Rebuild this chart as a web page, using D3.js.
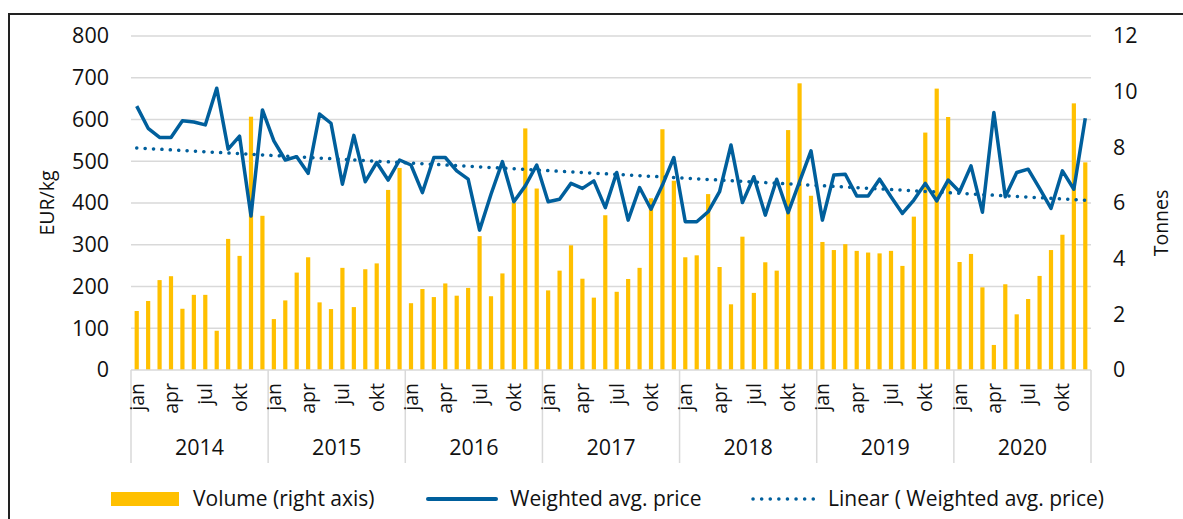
<!DOCTYPE html>
<html>
<head>
<meta charset="utf-8">
<script src="https://cdn.jsdelivr.net/npm/d3@7"></script>
<style>
  body { margin: 0; background: #fff; }
  svg { display: block; font-family: "Open Sans", sans-serif; }
</style>
</head>
<body>
<div id="chart"></div>
<script>
const years = ["2014", "2015", "2016", "2017", "2018", "2019", "2020"];
const monthNames = ["jan", "feb", "mar", "apr", "maj", "jun", "jul", "aug", "sep", "okt", "nov", "dec"];
const shownMonths = ["jan", "apr", "jul", "okt"];

// Weighted avg. price, EUR/kg (left axis)
const price = [
  632, 579, 557, 557, 597, 594, 587, 675, 529, 560, 369, 623,
  549, 503, 511, 471, 613, 591, 445, 562, 451, 497, 455, 503,
  491, 425, 509, 509, 477, 457, 335, 421, 499, 403, 441, 491,
  403, 409, 447, 435, 453, 389, 473, 359, 437, 385, 443, 509,
  355, 355, 379, 427, 539, 401, 463, 371, 457, 377, 451, 525,
  359, 467, 469, 417, 417, 457, 415, 375, 407, 447, 405, 455,
  427, 489, 378, 617, 415, 473, 481, 435, 387, 477, 433, 603
];

// Volume, tonnes (right axis)
const volume = [
  2.12, 2.48, 3.23, 3.37, 2.20, 2.70, 2.70, 1.41, 4.71, 4.10, 9.10, 5.54,
  1.83, 2.50, 3.50, 4.05, 2.43, 2.19, 3.67, 2.26, 3.62, 3.83, 6.47, 7.26,
  2.40, 2.91, 2.62, 3.11, 2.67, 2.95, 4.81, 2.65, 3.47, 6.01, 8.68, 6.52,
  2.86, 3.57, 4.48, 3.28, 2.60, 5.56, 2.81, 3.27, 3.67, 6.17, 8.65, 6.80,
  4.05, 4.12, 6.32, 3.70, 2.36, 4.79, 2.77, 3.87, 3.57, 8.62, 10.30, 6.26,
  4.60, 4.31, 4.52, 4.28, 4.22, 4.19, 4.28, 3.74, 5.51, 8.53, 10.11, 9.09,
  3.88, 4.17, 2.97, 0.90, 3.08, 2.00, 2.55, 3.38, 4.31, 4.86, 9.58, 7.46
];

const priceTicks = [0, 100, 200, 300, 400, 500, 600, 700, 800];
const volumeTicks = [0, 2, 4, 6, 8, 10, 12];

const W = 1183, H = 519;
const plotL = 131, plotR = 1091, plotT = 36, plotB = 370;
const blue = "#005f9c", gold = "#ffc000", grid = "#d9d9d9", ink = "#111";

const data = price.map((p, i) => ({
  i: i,
  year: years[Math.floor(i / 12)],
  month: monthNames[i % 12],
  price: p,
  volume: volume[i]
}));

const svg = d3.select("#chart").append("svg")
  .attr("width", W)
  .attr("height", H);

// frame
svg.append("rect")
  .attr("x", 9).attr("y", 14)
  .attr("width", W + 20).attr("height", H + 20)
  .attr("fill", "none")
  .attr("stroke", "#222")
  .attr("stroke-width", 2);

const x = d3.scaleBand()
  .domain(data.map(d => d.i))
  .range([plotL, plotR]);

const yL = d3.scaleLinear().domain([0, 800]).range([plotB, plotT]);
const yR = d3.scaleLinear().domain([0, 12]).range([plotB, plotT]);

// gridlines
svg.append("g")
  .selectAll("line")
  .data(priceTicks.slice(1))
  .join("line")
  .attr("x1", plotL).attr("x2", plotR)
  .attr("y1", d => yL(d)).attr("y2", d => yL(d))
  .attr("stroke", grid)
  .attr("stroke-width", 1.5);

// left axis
const axL = svg.append("g")
  .attr("transform", `translate(${plotL - 22},0)`)
  .call(d3.axisLeft(yL).tickValues(priceTicks).tickSize(0).tickPadding(0));
axL.select(".domain").remove();
axL.selectAll("text")
  .attr("font-size", 21.5)
  .attr("font-family", "Open Sans, sans-serif")
  .attr("fill", ink);

// right axis
const axR = svg.append("g")
  .attr("transform", `translate(${plotR + 22},0)`)
  .call(d3.axisRight(yR).tickValues(volumeTicks).tickSize(0).tickPadding(0));
axR.select(".domain").remove();
axR.selectAll("text")
  .attr("font-size", 21.5)
  .attr("font-family", "Open Sans, sans-serif")
  .attr("fill", ink);

svg.append("text")
  .attr("transform", `translate(54,${(plotT + plotB) / 2}) rotate(-90)`)
  .attr("text-anchor", "middle")
  .attr("font-size", 19.5)
  .attr("fill", ink)
  .text("EUR/kg");

svg.append("text")
  .attr("transform", `translate(1168,${(plotT + plotB) / 2 + 20}) rotate(-90)`)
  .attr("text-anchor", "middle")
  .attr("font-size", 19.5)
  .attr("fill", ink)
  .text("Tonnes");

// bars
const barW = 4.2;
svg.append("g")
  .selectAll("rect")
  .data(data)
  .join("rect")
  .attr("x", d => x(d.i) + x.bandwidth() / 2 - barW / 2)
  .attr("y", d => yR(d.volume))
  .attr("width", barW)
  .attr("height", d => plotB - yR(d.volume))
  .attr("fill", gold);

// bottom axis line
svg.append("line")
  .attr("x1", plotL).attr("x2", plotR)
  .attr("y1", plotB).attr("y2", plotB)
  .attr("stroke", grid)
  .attr("stroke-width", 1.5);

// year separators
const yearEdges = d3.range(0, data.length + 1, 12);
svg.append("g")
  .selectAll("line")
  .data(yearEdges)
  .join("line")
  .attr("x1", d => d < data.length ? x(d) : plotR)
  .attr("x2", d => d < data.length ? x(d) : plotR)
  .attr("y1", plotB)
  .attr("y2", 463)
  .attr("stroke", grid)
  .attr("stroke-width", 1.5);

// month labels
svg.append("g")
  .selectAll("text")
  .data(data.filter(d => shownMonths.includes(d.month)))
  .join("text")
  .attr("transform", d => `translate(${x(d.i) + x.bandwidth() / 2 + 7},383) rotate(-90)`)
  .attr("text-anchor", "end")
  .attr("font-size", 19.5)
  .attr("fill", ink)
  .text(d => d.month);

// year labels
svg.append("g")
  .selectAll("text")
  .data(years)
  .join("text")
  .attr("x", (d, k) => (x(k * 12) + (k * 12 + 12 < data.length ? x(k * 12 + 12) : plotR)) / 2)
  .attr("y", 455)
  .attr("text-anchor", "middle")
  .attr("font-size", 21.5)
  .attr("fill", ink)
  .text(d => d);

// price line
const line = d3.line()
  .x(d => x(d.i) + x.bandwidth() / 2)
  .y(d => yL(d.price));

svg.append("path")
  .datum(data)
  .attr("d", line)
  .attr("fill", "none")
  .attr("stroke", blue)
  .attr("stroke-width", 3.5)
  .attr("stroke-linejoin", "round");

// linear trend (least squares on price)
const mx = d3.mean(data, d => d.i);
const my = d3.mean(data, d => d.price);
const slope = d3.sum(data, d => (d.i - mx) * (d.price - my)) / d3.sum(data, d => (d.i - mx) ** 2);
const icpt = my - slope * mx;
const trend = data.map(d => ({ i: d.i, price: icpt + slope * d.i }));

svg.append("path")
  .datum(trend)
  .attr("d", line)
  .attr("fill", "none")
  .attr("stroke", blue)
  .attr("stroke-width", 3.5)
  .attr("stroke-linecap", "round")
  .attr("stroke-dasharray", "0.1 8.3");

// legend
const lg = svg.append("g").attr("font-size", 21).attr("fill", ink);
const ly = 499;
lg.append("rect")
  .attr("x", 111).attr("y", ly - 7)
  .attr("width", 68).attr("height", 14)
  .attr("fill", gold);
lg.append("text").attr("x", 193).attr("y", ly).attr("dy", "0.35em").text("Volume (right axis)");

lg.append("line")
  .attr("x1", 428).attr("x2", 496)
  .attr("y1", ly).attr("y2", ly)
  .attr("stroke", blue).attr("stroke-width", 4).attr("stroke-linecap", "round");
lg.append("text").attr("x", 510).attr("y", ly).attr("dy", "0.35em").text("Weighted avg. price");

lg.append("line")
  .attr("x1", 753).attr("x2", 821)
  .attr("y1", ly).attr("y2", ly)
  .attr("stroke", blue).attr("stroke-width", 3.5)
  .attr("stroke-linecap", "round").attr("stroke-dasharray", "0.1 8.5");
lg.append("text").attr("x", 828).attr("y", ly).attr("dy", "0.35em").text("Linear ( Weighted avg. price)");
</script>
</body>
</html>
